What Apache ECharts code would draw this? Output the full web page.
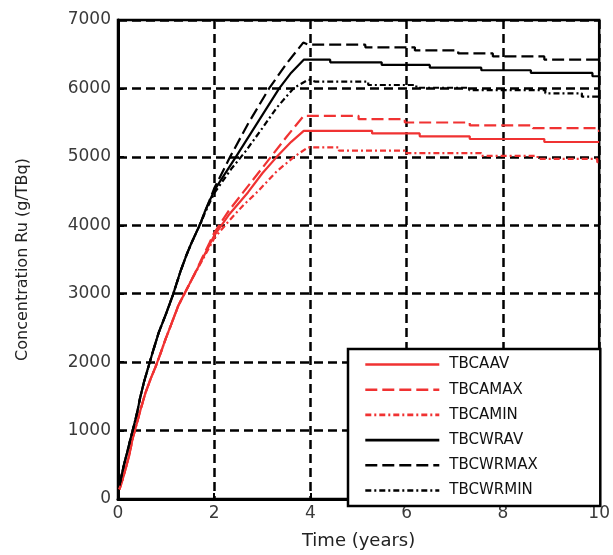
<!DOCTYPE html>
<html>
<head>
<meta charset="utf-8">
<script src="https://cdn.jsdelivr.net/npm/echarts@6/dist/echarts.min.js"></script>
<style>
  html, body { margin: 0; padding: 0; background: #fff; }
  #chart { width: 613px; height: 555px; }
</style>
</head>
<body>
<div id="chart"></div>
<script>
// Axis ticks
const xTicks = [0, 2, 4, 6, 8, 10];
const yTicks = [0, 1000, 2000, 3000, 4000, 5000, 6000, 7000];

// Series names (legend order)
const seriesNames = ['TBCAAV', 'TBCAMAX', 'TBCAMIN', 'TBCWRAV', 'TBCWRMAX', 'TBCWRMIN'];

// [time (years), concentration (g/TBq)]
const tbcaav = [[0.03,140],[0.11,320],[0.23,630],[0.30,870],[0.47,1310],[0.57,1550],[0.68,1760],[0.78,1930],[0.88,2120],[0.99,2340],[1.10,2540],[1.25,2820],[1.38,3000],[1.52,3190],[1.66,3380],[1.76,3520],[1.90,3710],[2.00,3850],[2.30,4150],[2.70,4480],[3.00,4760],[3.30,5000],[3.60,5220],[3.86,5380],[5.28,5380],[5.28,5343],[6.27,5343],[6.27,5300],[7.31,5300],[7.31,5261],[8.86,5261],[8.86,5217],[10,5217]];
const tbcamax = [[0.03,140],[0.11,320],[0.23,630],[0.30,870],[0.47,1310],[0.57,1550],[0.68,1760],[0.78,1930],[0.88,2120],[0.99,2340],[1.10,2540],[1.25,2820],[1.38,3000],[1.52,3190],[1.66,3390],[1.76,3540],[1.90,3740],[2.00,3890],[2.30,4210],[2.60,4480],[2.90,4750],[3.20,5020],[3.50,5290],[3.86,5600],[5.00,5600],[5.00,5551],[5.96,5551],[5.96,5502],[7.31,5502],[7.31,5459],[8.62,5459],[8.62,5420],[9.96,5420],[9.96,5381],[10,5381]];
const tbcamin = [[0.03,140],[0.11,320],[0.23,630],[0.30,870],[0.47,1310],[0.57,1550],[0.68,1760],[0.78,1930],[0.88,2120],[0.99,2340],[1.10,2540],[1.25,2820],[1.38,3000],[1.52,3190],[1.66,3370],[1.76,3500],[1.90,3680],[2.00,3810],[2.30,4060],[2.60,4290],[2.90,4490],[3.30,4790],[3.66,5000],[3.95,5140],[4.59,5140],[4.59,5092],[5.96,5092],[5.96,5054],[7.55,5054],[7.55,5014],[8.72,5014],[8.72,4971],[9.96,4971],[9.96,4923],[10,4923]];
const tbcwrav = [[0.03,200],[0.12,490],[0.19,680],[0.26,880],[0.33,1070],[0.40,1270],[0.46,1480],[0.54,1710],[0.64,1950],[0.71,2120],[0.85,2440],[1.00,2710],[1.14,2980],[1.30,3330],[1.42,3560],[1.52,3730],[1.63,3900],[1.72,4040],[1.80,4190],[1.90,4350],[2.00,4510],[2.45,5000],[2.90,5500],[3.35,6000],[3.60,6230],[3.86,6420],[4.41,6420],[4.41,6381],[5.48,6381],[5.48,6343],[6.48,6343],[6.48,6304],[7.55,6304],[7.55,6266],[8.58,6266],[8.58,6227],[9.86,6227],[9.86,6178],[10,6178]];
const tbcwrmax = [[0.03,200],[0.12,490],[0.19,680],[0.26,880],[0.33,1070],[0.40,1270],[0.46,1480],[0.54,1710],[0.64,1950],[0.71,2120],[0.85,2440],[1.00,2710],[1.14,2980],[1.30,3330],[1.42,3560],[1.52,3730],[1.63,3900],[1.72,4040],[1.80,4190],[1.90,4360],[2.00,4540],[2.33,5000],[2.70,5480],[3.14,6000],[3.50,6360],[3.85,6670],[3.95,6640],[5.14,6640],[5.14,6600],[6.17,6600],[6.17,6555],[7.07,6555],[7.07,6512],[7.79,6512],[7.79,6468],[8.86,6468],[8.86,6420],[10,6420]];
const tbcwrmin = [[0.03,200],[0.12,490],[0.19,680],[0.26,880],[0.33,1070],[0.40,1270],[0.46,1480],[0.54,1710],[0.64,1950],[0.71,2120],[0.85,2440],[1.00,2710],[1.14,2980],[1.30,3330],[1.42,3560],[1.52,3730],[1.63,3900],[1.72,4030],[1.80,4170],[1.90,4320],[2.00,4470],[2.35,4820],[2.65,5080],[3.00,5420],[3.30,5720],[3.66,6010],[3.96,6130],[4.10,6100],[5.20,6100],[5.20,6050],[6.20,6050],[6.20,6010],[7.30,6010],[7.30,5975],[8.88,5975],[8.88,5928],[9.64,5928],[9.64,5880],[10,5880]];

const RED = '#f03232';
const BLACK = '#000000';
const DASH = [12, 5];
const DASHDOT = [6, 3, 2, 3];

function lineSeries(name, data, color, type) {
  return {
    name: name,
    type: 'line',
    data: data,
    symbol: 'none',
    showSymbol: false,
    smooth: false,
    lineStyle: { color: color, width: 2.2, type: type },
    itemStyle: { color: color },
    z: 3
  };
}

const chart = echarts.init(document.getElementById('chart'), null, { renderer: 'canvas' });

const tickFont = { fontFamily: 'DejaVu Sans', fontSize: 17, color: '#3a3a3a' };
const gridDash = { color: '#000', width: 2.5, type: [9, 5] };

chart.setOption({
  animation: false,
  backgroundColor: '#fff',
  grid: {
    left: 118, right: 12, top: 20, bottom: 51,
    show: true, borderColor: '#000', borderWidth: 2.5, backgroundColor: 'transparent'
  },
  xAxis: {
    type: 'value',
    min: xTicks[0], max: xTicks[xTicks.length - 1], interval: 2,
    name: 'Time (years)',
    nameLocation: 'middle',
    nameGap: 33,
    nameTextStyle: { fontFamily: 'DejaVu Sans', fontSize: 18, color: '#222' },
    axisLine: { show: true, lineStyle: { color: '#000', width: 3 } },
    axisTick: { show: true, inside: true, length: 6, lineStyle: { color: '#000', width: 2 } },
    axisLabel: Object.assign({ margin: 6, formatter: v => String(v) }, tickFont),
    splitLine: { show: true, lineStyle: gridDash }
  },
  yAxis: {
    type: 'value',
    min: yTicks[0], max: yTicks[yTicks.length - 1], interval: 1000,
    name: 'Concentration Ru (g/TBq)',
    nameLocation: 'middle',
    nameGap: 87,
    nameRotate: 90,
    nameTextStyle: { fontFamily: 'DejaVu Sans', fontSize: 16, color: '#222' },
    axisLine: { show: true, lineStyle: { color: '#000', width: 3 } },
    axisTick: { show: true, inside: true, length: 6, lineStyle: { color: '#000', width: 2 } },
    axisLabel: Object.assign({ margin: 7, padding: [0, 0, 4, 0], formatter: v => String(v) }, tickFont),
    splitLine: { show: true, lineStyle: gridDash }
  },
  legend: {
    data: seriesNames,
    orient: 'vertical',
    left: 348,
    top: 349,
    padding: [8, 16, 8, 16],
    itemWidth: 74,
    itemHeight: 14,
    itemGap: 10.2,
    backgroundColor: '#fff',
    borderColor: '#000',
    borderWidth: 2.5,
    selectedMode: false,
    itemStyle: { opacity: 0 },
    lineStyle: { width: 2.6 },
    textStyle: {
      fontFamily: 'DejaVu Sans', fontSize: 15, color: '#111',
      width: 135, lineHeight: 14, padding: [0, 0, 0, 5]
    },
    z: 10
  },
  series: [
    lineSeries(seriesNames[0], tbcaav, RED, 'solid'),
    lineSeries(seriesNames[1], tbcamax, RED, DASH),
    lineSeries(seriesNames[2], tbcamin, RED, DASHDOT),
    lineSeries(seriesNames[3], tbcwrav, BLACK, 'solid'),
    lineSeries(seriesNames[4], tbcwrmax, BLACK, DASH),
    lineSeries(seriesNames[5], tbcwrmin, BLACK, DASHDOT)
  ]
});
</script>
</body>
</html>
